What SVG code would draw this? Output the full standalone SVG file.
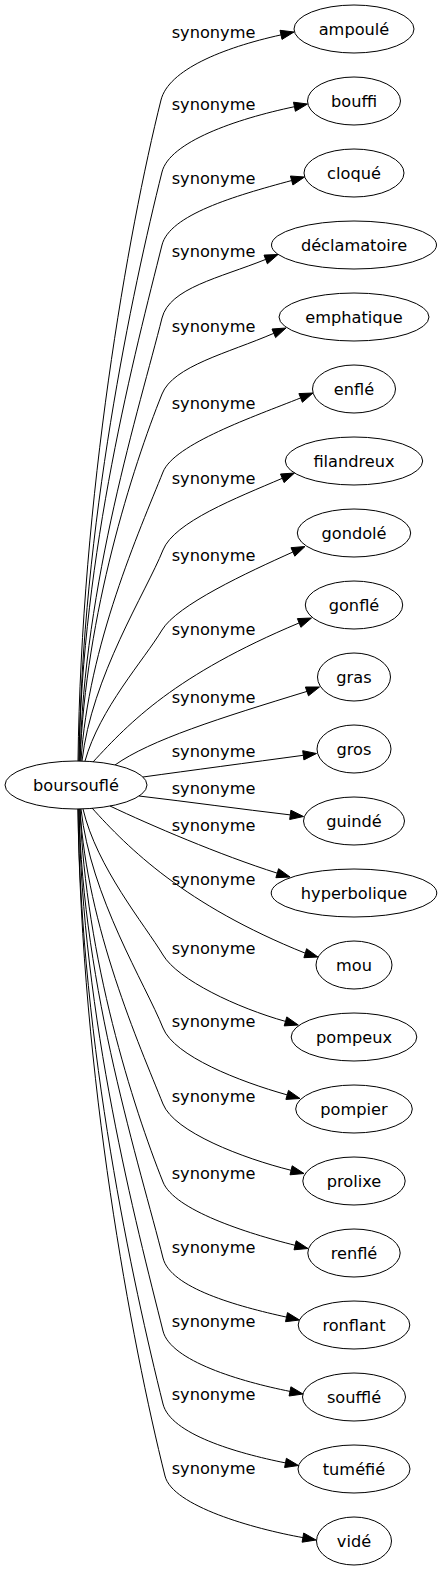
<svg xmlns="http://www.w3.org/2000/svg" width="442" height="1571" viewBox="0 0 442 1571">
<style>
text{font-family:"DejaVu Sans","Liberation Sans",sans-serif;font-size:16.2px;fill:#000;text-anchor:middle}
ellipse{fill:none;stroke:#000;stroke-width:1}
.e path{fill:none;stroke:#000;stroke-width:1}
.e polygon{fill:#000;stroke:#000;stroke-width:1}
</style>
<rect width="442" height="1571" fill="#fff"/>
<g id="edges" class="e">
<path d="M78,761 C81.3,496.6 128,232.2 161,100 C168.5,70 222.4,47.8 281,34.9"/><polygon points="282,39.4 294,32 280,30.3"/>
<path d="M79,761 C82,525.4 132.6,289.8 162,172 C169.5,142 235.8,119 294.5,106.7"/><polygon points="295.4,111.3 307.5,104 293.5,102.2"/>
<path d="M79,761 C81.6,554.6 136.2,348.2 162,245 C169.5,215 233.8,196.1 291.7,180.5"/><polygon points="292.9,185 304.5,177 290.4,176"/>
<path d="M80,761 C83.5,583.8 139.9,406.6 162,318 C169.5,288 219.3,278 265.7,259.4"/><polygon points="267.4,263.8 278,254.5 264,255.1"/>
<path d="M80,761 C85.6,614.2 132.6,467.4 162,394 C173.2,366 227.9,353.1 273.8,333.3"/><polygon points="275.6,337.6 286,328 272,329"/>
<path d="M81,761 C88.1,645.4 139.9,529.8 163,472 C174.2,444 254.2,416.5 300.7,397.9"/><polygon points="302.4,402.3 313,393 298.9,393.6"/>
<path d="M82,761 C91.6,676.6 146.1,592.2 163,550 C174.2,522 236.4,498 282.3,478.3"/><polygon points="284.1,482.6 294.5,473 280.5,474"/>
<path d="M85,761 C99.7,708.6 144,660 162,630 C177,605 247.3,572.5 292.9,552"/><polygon points="294.8,556.2 305,546.5 291,547.7"/>
<path d="M93,762 C130,722 175,675 299.2,622.9"/><polygon points="300.9,627.3 311.5,618 297.4,618.6"/>
<path d="M115,765 C150,740 220,718 307,691.4"/><polygon points="308.5,695.8 319.5,687 305.4,687"/>
<path d="M143,777 C190,770.5 250,762.5 303.3,755.3"/><polygon points="303.9,759.9 316.5,753.5 302.7,750.7"/>
<path d="M139,796 C190,802 240,809 290.3,814.9"/><polygon points="289.7,819.5 303.5,816.5 290.9,810.2"/>
<path d="M110,806 C150,825 220,855 277.3,873.2"/><polygon points="275.9,877.7 290,877 278.6,868.7"/>
<path d="M92,808 C128,848 185,905 305.3,953.2"/><polygon points="303.9,957.7 318,957 306.6,948.7"/>
<path d="M83,809 C96.7,867.4 145,925 163,955 C178,980 237.4,1007.9 285.5,1021.4"/><polygon points="284.2,1025.9 298.3,1025 286.8,1016.9"/>
<path d="M81,809 C90.4,896.6 145.4,984 163,1028 C174.2,1056 239.1,1081.4 287.2,1094.9"/><polygon points="285.9,1099.4 300,1098.5 288.5,1090.4"/>
<path d="M80,809 C87,927 139.4,1045 163,1104 C174.2,1132 242.6,1158.2 291.1,1170.3"/><polygon points="290,1174.8 304,1173.5 292.2,1165.8"/>
<path d="M80,809 C85.6,958.2 133.2,1107.4 163,1182 C174.2,1210 246.6,1233.2 295.1,1245.3"/><polygon points="294,1249.8 308,1248.5 296.2,1240.8"/>
<path d="M79,809 C82.5,988.6 140.6,1168.2 163,1258 C170.5,1288 237.7,1306.4 286.5,1317.1"/><polygon points="285.5,1321.7 299.5,1320 287.5,1312.6"/>
<path d="M79,809 C81.6,1017.8 136.9,1226.6 163,1331 C170.5,1361 241,1381.6 290,1391.4"/><polygon points="289.1,1396 303,1394 290.9,1386.8"/>
<path d="M78,809 C81,1047 133.3,1285 163,1404 C170.5,1434 236.5,1453.1 285.5,1462.9"/><polygon points="284.6,1467.5 298.5,1465.5 286.4,1458.3"/>
<path d="M78,809 C81.3,1075.8 131.7,1342.6 165,1476 C172.5,1506 253.7,1528.8 302.9,1537.6"/><polygon points="302.1,1542.2 316,1540 303.7,1533"/>
<text x="213.5" y="38">synonyme</text>
<text x="213.5" y="110">synonyme</text>
<text x="213.5" y="183.5">synonyme</text>
<text x="213.5" y="257">synonyme</text>
<text x="213.5" y="332">synonyme</text>
<text x="213.5" y="408.5">synonyme</text>
<text x="213.5" y="483.5">synonyme</text>
<text x="213.5" y="561">synonyme</text>
<text x="213.5" y="635">synonyme</text>
<text x="213.5" y="702.5">synonyme</text>
<text x="213.5" y="757">synonyme</text>
<text x="213.5" y="793.5">synonyme</text>
<text x="213.5" y="830.5">synonyme</text>
<text x="213.5" y="885">synonyme</text>
<text x="213.5" y="953.5">synonyme</text>
<text x="213.5" y="1027">synonyme</text>
<text x="213.5" y="1102">synonyme</text>
<text x="213.5" y="1178.5">synonyme</text>
<text x="213.5" y="1252.5">synonyme</text>
<text x="213.5" y="1327">synonyme</text>
<text x="213.5" y="1400">synonyme</text>
<text x="213.5" y="1473.5">synonyme</text>
</g>
<g id="boursoufle"><ellipse cx="76" cy="785" rx="71" ry="24"/><text x="76" y="790.7">boursouflé</text></g>
<g id="ampoule"><ellipse cx="354" cy="29" rx="60" ry="24"/><text x="354" y="34.7">ampoulé</text></g>
<g id="bouffi"><ellipse cx="354" cy="101" rx="46.5" ry="24"/><text x="354" y="106.7">bouffi</text></g>
<g id="cloque"><ellipse cx="354" cy="173" rx="50" ry="24"/><text x="354" y="178.7">cloqué</text></g>
<g id="declamatoire"><ellipse cx="354" cy="245" rx="82.5" ry="24"/><text x="354" y="250.7">déclamatoire</text></g>
<g id="emphatique"><ellipse cx="354" cy="317" rx="75" ry="24"/><text x="354" y="322.7">emphatique</text></g>
<g id="enfle"><ellipse cx="354" cy="389" rx="41.5" ry="24"/><text x="354" y="394.7">enflé</text></g>
<g id="filandreux"><ellipse cx="354" cy="461" rx="68.7" ry="24"/><text x="354" y="466.7">filandreux</text></g>
<g id="gondole"><ellipse cx="354" cy="533" rx="56.7" ry="24"/><text x="354" y="538.7">gondolé</text></g>
<g id="gonfle"><ellipse cx="354" cy="605" rx="48.7" ry="24"/><text x="354" y="610.7">gonflé</text></g>
<g id="gras"><ellipse cx="354" cy="677" rx="36.5" ry="24"/><text x="354" y="682.7">gras</text></g>
<g id="gros"><ellipse cx="354" cy="749" rx="37" ry="24"/><text x="354" y="754.7">gros</text></g>
<g id="guinde"><ellipse cx="354" cy="821" rx="50.5" ry="24"/><text x="354" y="826.7">guindé</text></g>
<g id="hyperbolique"><ellipse cx="354" cy="893" rx="82.8" ry="24"/><text x="354" y="898.7">hyperbolique</text></g>
<g id="mou"><ellipse cx="354" cy="965" rx="38" ry="24"/><text x="354" y="970.7">mou</text></g>
<g id="pompeux"><ellipse cx="354" cy="1037" rx="62.8" ry="24"/><text x="354" y="1042.7">pompeux</text></g>
<g id="pompier"><ellipse cx="354" cy="1109" rx="58.3" ry="24"/><text x="354" y="1114.7">pompier</text></g>
<g id="prolixe"><ellipse cx="354" cy="1181" rx="51.2" ry="24"/><text x="354" y="1186.7">prolixe</text></g>
<g id="renfle"><ellipse cx="354" cy="1253" rx="46.2" ry="24"/><text x="354" y="1258.7">renflé</text></g>
<g id="ronflant"><ellipse cx="354" cy="1325" rx="55.8" ry="24"/><text x="354" y="1330.7">ronflant</text></g>
<g id="souffle"><ellipse cx="354" cy="1397" rx="51.5" ry="24"/><text x="354" y="1402.7">soufflé</text></g>
<g id="tumefie"><ellipse cx="354" cy="1469" rx="56" ry="24"/><text x="354" y="1474.7">tuméfié</text></g>
<g id="vide"><ellipse cx="354" cy="1541" rx="37.5" ry="24"/><text x="354" y="1546.7">vidé</text></g>
</svg>
